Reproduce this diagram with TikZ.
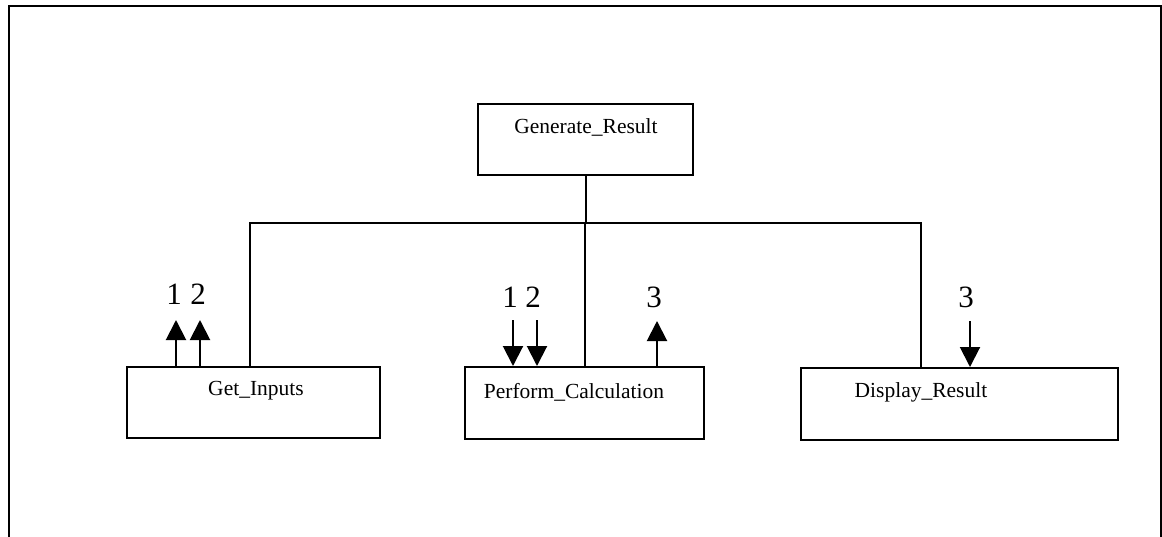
\documentclass[tikz,border=0pt]{standalone}
\usepackage{fontspec}
\setmainfont{Liberation Serif}
\usetikzlibrary{arrows.meta}
\begin{document}
\begin{tikzpicture}[x=1pt,y=-1pt,
  box/.style={draw,line width=2pt,inner sep=0pt},
  boxtext/.style={font=\fontsize{21.5}{25}\selectfont,inner sep=0pt,anchor=center},
  num/.style={font=\fontsize{31}{35}\selectfont,inner sep=0pt,anchor=center},
  wire/.style={line width=2pt},
  flow/.style={line width=2pt,-{Triangle[length=20pt,width=20pt]}}]
\useasboundingbox (0,0) rectangle (1162,536);
% outer frame
\draw[line width=2pt] (9,540) -- (9,6) -- (1161,6) -- (1161,540);
% boxes
\node[box,minimum width=215pt,minimum height=71pt] (gen) at (585.5,139.5) {};
\node[box,minimum width=253pt,minimum height=71pt] (get) at (253.5,402.5) {};
\node[box,minimum width=239pt,minimum height=72pt] (perf) at (584.5,403) {};
\node[box,minimum width=317pt,minimum height=72pt] (disp) at (959.5,404) {};
% texts
\node[boxtext] (gent) at (586,127) {Generate\_Result};
\node[boxtext] (gett) at (256,391) {Get\_Inputs};
\node[boxtext] (perft) at (574,392) {Perform\_Calculation};
\node[boxtext] (dispt) at (921,392) {Display\_Result};
% bus
\coordinate (bl) at (250,223);
\coordinate (br) at (921,223);
\draw[wire] (bl |- get.north) -- (bl) -- (br) -- (br |- disp.north);
\draw[wire] (gen.south) -- (gen.south |- bl);
\draw[wire] (perf.north) -- (perf.north |- bl);
% data flow arrows
\coordinate (g1) at (176,320);
\coordinate (g2) at (200,320);
\draw[flow] (g1 |- get.north) -- (g1);
\draw[flow] (g2 |- get.north) -- (g2);
\coordinate (p1) at (513,320);
\coordinate (p2) at (537,320);
\draw[flow] (p1) -- (p1 |- perf.north);
\draw[flow] (p2) -- (p2 |- perf.north);
\coordinate (p3) at (657,321);
\draw[flow] (p3 |- perf.north) -- (p3);
\coordinate (d3) at (970,321);
\draw[flow] (d3) -- (d3 |- disp.north);
% labels
\node[num] (n1a) at (174,294) {1};
\node[num] (n2a) at (198,294) {2};
\node[num] (n1b) at (510,297) {1};
\node[num] (n2b) at (533,297) {2};
\node[num] (n3b) at (654,297) {3};
\node[num] (n3c) at (966,297) {3};
\end{tikzpicture}
\end{document}
